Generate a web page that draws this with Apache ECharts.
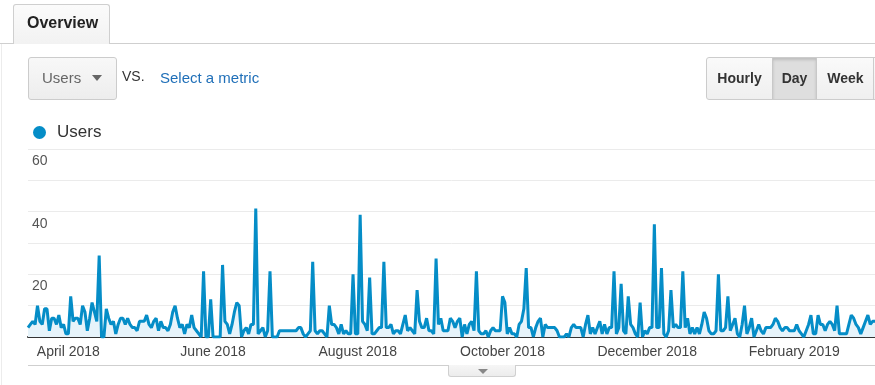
<!DOCTYPE html>
<html><head><meta charset="utf-8">
<script src="https://cdn.jsdelivr.net/npm/echarts@6/dist/echarts.min.js"></script>
<style>
html,body{margin:0;padding:0;width:875px;height:385px;overflow:hidden;background:#fff;font-family:Arial,"Liberation Sans",sans-serif;}
#chart{position:absolute;left:0;top:0;width:875px;height:385px;z-index:1;}
.abs{position:absolute;z-index:2;box-sizing:border-box;}
.btn{position:absolute;top:0;height:41px;line-height:41px;text-align:center;font-weight:bold;font-size:14px;color:#333;box-sizing:border-box;}
</style></head><body>
<div class="abs" style="left:0;top:43px;width:875px;height:1px;background:#cfcfcf"></div>
<div class="abs" style="left:1px;top:44px;width:1px;height:341px;background:#ececec"></div>
<div class="abs" style="left:13px;top:4px;width:97px;height:40px;border:1px solid #cfcfcf;border-bottom:none;border-radius:3px 3px 0 0;background:linear-gradient(#fbfbfb,#f2f2f2);"></div>
<div class="abs" style="left:27px;top:14px;font-weight:bold;font-size:16px;color:#222;">Overview</div>

<div class="abs" style="left:28px;top:57px;width:89px;height:43px;border:1px solid #cccccc;border-radius:3px;background:linear-gradient(#f8f8f8,#ededed);"></div>
<div class="abs" style="left:42px;top:69px;font-size:15px;color:#666;">Users</div>
<div class="abs" style="left:92px;top:75px;width:0;height:0;border-left:5px solid transparent;border-right:5px solid transparent;border-top:6px solid #666;"></div>
<div class="abs" style="left:122px;top:68px;font-size:14px;color:#333;">VS.</div>
<div class="abs" style="left:160px;top:69px;font-size:15px;color:#1f6fb8;">Select a metric</div>

<div class="abs" style="left:706px;top:57px;width:180px;height:43px;border:1px solid #cccccc;border-radius:3px;background:linear-gradient(#fafafa,#efefef);overflow:hidden;">
  <div class="btn" style="left:0;width:65px;">Hourly</div>
  <div class="btn" style="left:65px;width:45px;background:#dedede;border-left:1px solid #c8c8c8;border-right:1px solid #c8c8c8;box-shadow:inset 0 2px 3px rgba(0,0,0,0.15);">Day</div>
  <div class="btn" style="left:110px;width:57px;">Week</div>
  <div class="btn" style="left:166px;width:20px;border-left:1px solid #cccccc;"></div>
</div>

<div class="abs" style="left:28px;top:365px;width:847px;height:1px;background:#cfcfcf"></div>
<div class="abs" style="left:448px;top:365px;width:68px;height:12px;border:1px solid #d0d0d0;border-top:none;border-radius:0 0 3px 3px;background:linear-gradient(#f6f6f6,#ececec);"></div>
<div class="abs" style="left:478px;top:369px;width:0;height:0;border-left:5px solid transparent;border-right:5px solid transparent;border-top:5px solid #888;"></div>

<div id="chart"></div>
<script>
// Daily users (starting 15 March 2018)
const startDate = '2018-03-15';
const usersSpring = [
3,4,5,4,10,5,4,9,9,2,
6,6,4,7,3,4,1,1,13,5,
6,6,4,10,8,2,6,11,8,5,
26,0,0,9,6,4,5,1,4,6,
6,4,6,4,3,3,2,5,5,5,
7,4,3,5,6,2,5,3,3,2,
4,8,10,6,3,4,1,4,3,7,
3,2,1,0,21,0,0,12,0,0,
0,0,23,5,4,1,4,8,11,10];
const usersSummer = [
0,2,3,1,4,4,41,1,2,3,
0,2,21,0,0,0,2,2,2,2,
2,2,2,2,3,3,1,0,1,2,
24,2,1,2,2,1,0,10,4,4,
3,1,4,1,2,1,1,20,1,1,
39,5,4,2,19,1,1,2,3,3,
24,3,3,4,1,2,2,1,4,7,
2,3,2,1,15,5,3,3,6,2,
2,1,25,4,6,2,2];
const usersAutumn = [
2,6,5,3,5,6,0,4,1,4,
5,2,21,2,1,1,2,0,2,3,
2,2,2,13,11,1,3,1,1,0,
4,5,9,22,3,3,0,3,5,6,
0,4,3,3,3,3,2,0,0,0,
1,0,3,4,3,3,3,0,4,7,
1,3,1,3,5,1,4,1,3,3,
21,1,3,17,2,1,13,4,3,1,
0,11,0,2,1,3,3,36,3,3,
22,1];
const usersWinter = [
0,2,15,3,4,3,3,21,3,6,
1,3,1,3,1,4,8,6,2,1,
1,2,20,2,2,3,13,2,4,6,
1,0,4,10,1,3,6,0,2,4,
2,1,3,3,3,4,6,5,3,2,
3,3,2,2,2,4,2,1,0,2,
4,7,1,1,7,4,4,2,4,5,
4,2,10,1,1,1,1,4,7,6,
4,3,1,3,5,7,4,5,5];
const users = usersSpring.concat(usersSummer, usersAutumn, usersWinter);

const tickDates = ['2018-04-01','2018-06-01','2018-08-01','2018-10-01','2018-12-01','2019-02-01'];
const tickLabels = ['April 2018','June 2018','August 2018','October 2018','December 2018','February 2019'];
const yTickLabels = [20, 40, 60];

const dates = [];
const t0 = Date.parse(startDate + 'T00:00:00Z');
for (let i = 0; i < users.length; i++) {
  dates.push(new Date(t0 + i * 86400000).toISOString().slice(0, 10));
}
const labelMap = {};
tickDates.forEach((d, k) => { labelMap[d] = tickLabels[k]; });

const chart = echarts.init(document.getElementById('chart'), null, {renderer: 'canvas'});
chart.setOption({
  animation: false,
  textStyle: {fontFamily: 'Arial, "Liberation Sans", sans-serif'},
  legend: {
    data: ['Users'], left: 28, top: 119, icon: 'circle', itemWidth: 13, itemHeight: 13,
    textStyle: {fontSize: 17, color: '#333', padding: [0, 0, 0, 6]}
  },
  grid: {left: 28, right: 0, top: 149, bottom: 48},
  xAxis: {
    type: 'category', boundaryGap: false, data: dates,
    axisLine: {lineStyle: {color: '#333', width: 2}},
    axisTick: {show: false},
    splitLine: {show: false},
    axisLabel: {
      interval: (i, v) => labelMap[v] !== undefined,
      formatter: v => labelMap[v] || '',
      fontSize: 14, color: '#444', margin: 8
    }
  },
  yAxis: {
    type: 'value', min: 0, max: 60, interval: 10,
    axisLine: {show: false}, axisTick: {show: false},
    splitLine: {lineStyle: {color: '#ebebeb'}},
    axisLabel: {
      inside: true, margin: 4, verticalAlign: 'top', padding: [5, 0, 0, 0],
      formatter: v => yTickLabels.indexOf(v) >= 0 ? String(v) : '',
      fontSize: 14, color: '#555'
    }
  },
  series: [{
    name: 'Users', type: 'line', data: users, symbol: 'none',
    lineStyle: {color: '#058dc7', width: 3},
    itemStyle: {color: '#058dc7'},
    areaStyle: {color: '#e6f3fa', opacity: 1}
  }]
});
</script>
</body></html>
